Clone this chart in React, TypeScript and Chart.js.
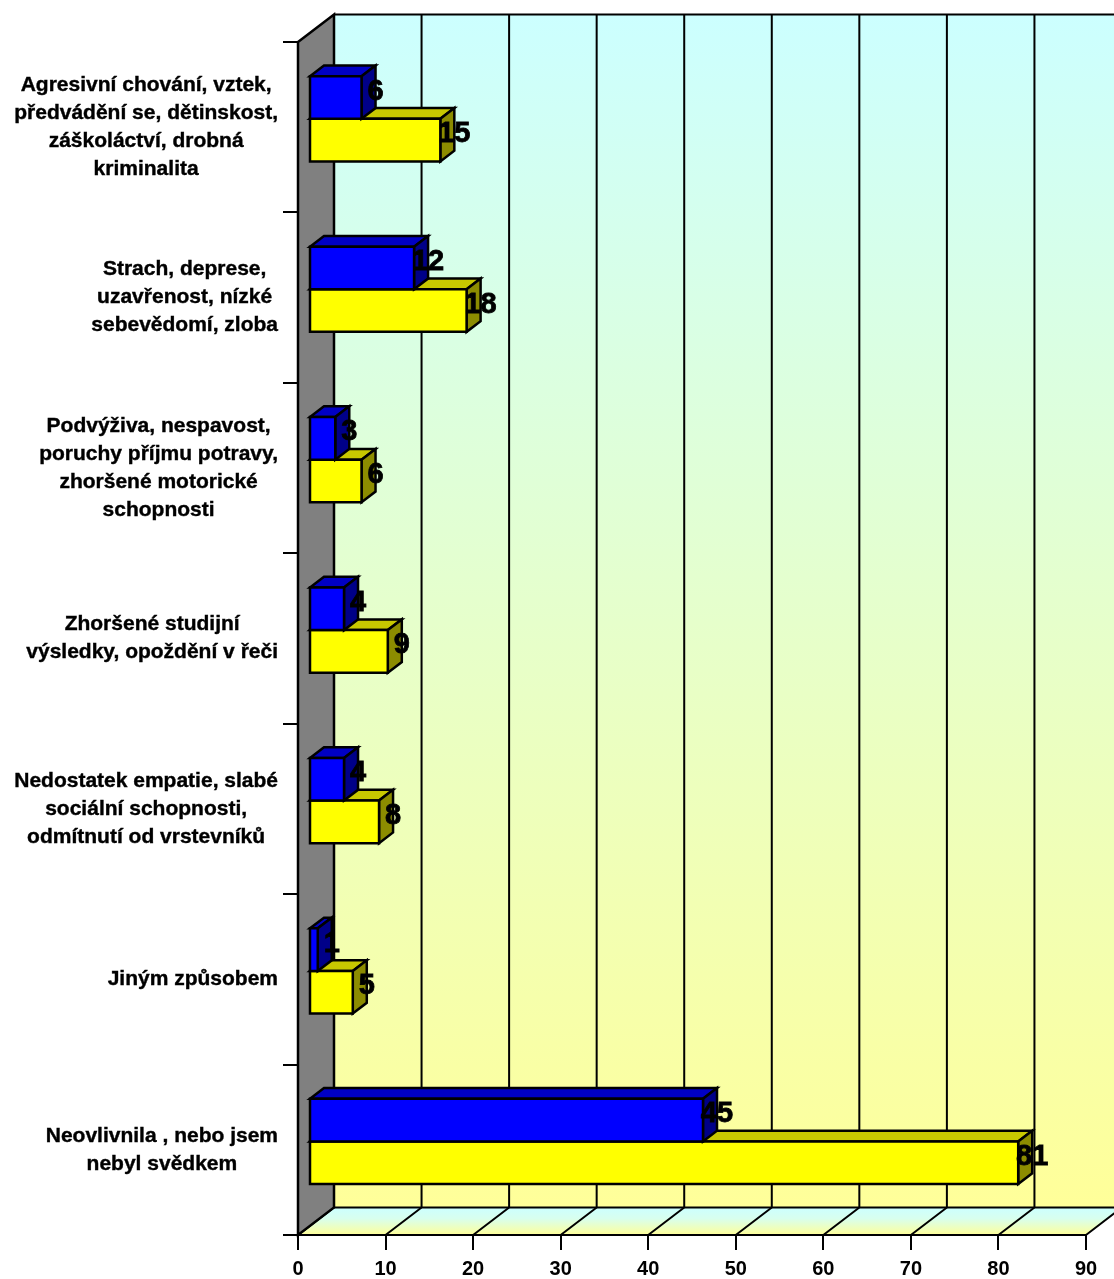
import React, { useEffect, useRef } from "react";
import { Chart, registerables } from "chart.js";

Chart.register(...registerables);

// ---------- data ----------
const categories: string[][] = [
  ["Agresivní chování, vztek,", "předvádění se, dětinskost,", "záškoláctví, drobná", "kriminalita"],
  ["Strach, deprese,", "uzavřenost, nízké", "sebevědomí, zloba"],
  ["Podvýživa, nespavost,", "poruchy příjmu potravy,", "zhoršené motorické", "schopnosti"],
  ["Zhoršené studijní", "výsledky, opoždění v řeči"],
  ["Nedostatek empatie, slabé", "sociální schopnosti,", "odmítnutí od vrstevníků"],
  ["Jiným způsobem"],
  ["Neovlivnila , nebo jsem", "nebyl svědkem"],
];
const blueValues = [6, 12, 3, 4, 4, 1, 45];
const yellowValues = [15, 18, 6, 9, 8, 5, 81];
const xMin = 0;
const xMax = 90;
const xStep = 10;

// ---------- styling ----------
const FONT = '"Liberation Sans", Arial, Helvetica, sans-serif';
const DEPTH_X = 36;
const DEPTH_Y = 27.5;
const BAR_OFF_X = 11;
const BAR_OFF_Y = 8.4;
const BAR_DX = 14;
const BAR_DY = 10.7;

const seriesColors = [
  { front: "#0000FF", top: "#0000C4", side: "#000088" },
  { front: "#FFFF00", top: "#C8C800", side: "#8C8C00" },
];

function poly(ctx: CanvasRenderingContext2D, pts: number[][], fill: string) {
  ctx.beginPath();
  ctx.moveTo(pts[0][0], pts[0][1]);
  for (let i = 1; i < pts.length; i++) ctx.lineTo(pts[i][0], pts[i][1]);
  ctx.closePath();
  ctx.fillStyle = fill;
  ctx.fill();
  ctx.stroke();
}

const scenePlugin = {
  id: "scene3d",
  beforeDraw(chart: any) {
    const { ctx, chartArea: a, scales } = chart;
    const x = scales.x;
    const W = chart.width;
    const bx0 = a.left + DEPTH_X;
    const by0 = a.top - DEPTH_Y;
    const by1 = a.bottom - DEPTH_Y;
    ctx.save();
    // back wall
    const g = ctx.createLinearGradient(0, by0, 0, by1);
    g.addColorStop(0, "#CCFFFF");
    g.addColorStop(1, "#FFFF99");
    ctx.fillStyle = g;
    ctx.fillRect(bx0, by0, W - bx0 + 10, by1 - by0);
    // floor
    const g2 = ctx.createLinearGradient(0, by1, 0, a.bottom);
    g2.addColorStop(0, "#CCFFFF");
    g2.addColorStop(0.4, "#D8FFEE");
    g2.addColorStop(1, "#FFFF99");
    ctx.beginPath();
    ctx.moveTo(a.left, a.bottom);
    ctx.lineTo(a.right, a.bottom);
    ctx.lineTo(a.right + DEPTH_X, by1);
    ctx.lineTo(bx0, by1);
    ctx.closePath();
    ctx.fillStyle = g2;
    ctx.fill();
    // grid lines on back wall and floor
    ctx.strokeStyle = "#000";
    ctx.lineWidth = 2;
    for (const t of x.ticks) {
      const px = x.getPixelForValue(t.value);
      ctx.beginPath();
      ctx.moveTo(px + DEPTH_X, by0);
      ctx.lineTo(px + DEPTH_X, by1);
      ctx.moveTo(px, a.bottom);
      ctx.lineTo(px + DEPTH_X, by1);
      ctx.stroke();
    }
    // back wall top & bottom edges
    ctx.beginPath();
    ctx.moveTo(bx0, by0);
    ctx.lineTo(W + 10, by0);
    ctx.moveTo(bx0, by1);
    ctx.lineTo(W + 10, by1);
    ctx.stroke();
    // left side wall
    ctx.lineJoin = "miter";
    ctx.lineWidth = 2.5;
    poly(
      ctx,
      [
        [a.left, a.top],
        [bx0, by0],
        [bx0, by1],
        [a.left, a.bottom],
      ],
      "#808080"
    );
    ctx.restore();
  },
  afterDatasetsDraw(chart: any) {
    const { ctx } = chart;
    ctx.save();
    ctx.strokeStyle = "#000";
    ctx.lineWidth = 2.5;
    ctx.lineJoin = "miter";
    const labels: { text: string; x: number; y: number }[] = [];
    // yellow first, blue on top
    for (const dsIndex of [1, 0]) {
      const meta = chart.getDatasetMeta(dsIndex);
      const col = seriesColors[dsIndex];
      const values = chart.data.datasets[dsIndex].data;
      meta.data.forEach((el: any, i: number) => {
        const p = el.getProps(["x", "y", "base", "height"], true);
        const x0 = p.base + BAR_OFF_X;
        const x1 = p.x + BAR_OFF_X;
        const yT = p.y - p.height / 2 - BAR_OFF_Y;
        const yB = p.y + p.height / 2 - BAR_OFF_Y;
        poly(ctx, [[x0, yT], [x0 + BAR_DX, yT - BAR_DY], [x1 + BAR_DX, yT - BAR_DY], [x1, yT]], col.top);
        poly(ctx, [[x1, yT], [x1 + BAR_DX, yT - BAR_DY], [x1 + BAR_DX, yB - BAR_DY], [x1, yB]], col.side);
        poly(ctx, [[x0, yT], [x1, yT], [x1, yB], [x0, yB]], col.front);
        labels.push({ text: String(values[i]), x: x1 + 14, y: (yT + yB) / 2 - 6 });
      });
    }
    ctx.fillStyle = "#000";
    ctx.strokeStyle = "#000";
    ctx.lineWidth = 0.8;
    ctx.font = `bold 29px ${FONT}`;
    ctx.textAlign = "center";
    ctx.textBaseline = "middle";
    for (const l of labels) {
      ctx.fillText(l.text, l.x, l.y);
      ctx.strokeText(l.text, l.x, l.y);
    }
    ctx.restore();
  },
  afterDraw(chart: any) {
    const { ctx, chartArea: a, scales } = chart;
    const y = scales.y;
    ctx.save();
    ctx.fillStyle = "#000";
    ctx.strokeStyle = "#000";
    ctx.lineWidth = 0.4;
    ctx.font = `bold 21px ${FONT}`;
    ctx.textAlign = "center";
    ctx.textBaseline = "middle";
    const lineH = 28;
    (chart.data.labels as string[][]).forEach((lines, i) => {
      const cy = y.getPixelForValue(i);
      let maxW = 0;
      for (const ln of lines) maxW = Math.max(maxW, ctx.measureText(ln).width);
      const right = a.left - 20;
      const cx = right - maxW / 2;
      lines.forEach((ln, j) => {
        const ty = cy + (j - (lines.length - 1) / 2) * lineH;
        ctx.fillText(ln, cx, ty);
        ctx.strokeText(ln, cx, ty);
      });
    });
    ctx.restore();
  },
};

export default function App() {
  const ref = useRef<HTMLCanvasElement | null>(null);
  useEffect(() => {
    document.body.style.margin = "0";
    const canvas = ref.current!;
    const chart = new Chart(canvas, {
      type: "bar",
      data: {
        labels: categories,
        datasets: [
          {
            label: "Série 1",
            data: blueValues,
            backgroundColor: "rgba(0,0,0,0)",
            borderWidth: 0,
            categoryPercentage: 0.5,
            barPercentage: 1.0,
          },
          {
            label: "Série 2",
            data: yellowValues,
            backgroundColor: "rgba(0,0,0,0)",
            borderWidth: 0,
            categoryPercentage: 0.5,
            barPercentage: 1.0,
          },
        ],
      },
      options: {
        indexAxis: "y",
        animation: false,
        responsive: false,
        events: [],
        layout: { padding: { left: 0, top: 42, right: 28, bottom: 0 } },
        plugins: {
          legend: { display: false },
          tooltip: { enabled: false },
          title: { display: false },
        },
        scales: {
          x: {
            type: "linear",
            min: xMin,
            max: xMax,
            ticks: {
              stepSize: xStep,
              color: "#000",
              font: { size: 20, weight: "bold", family: FONT },
              padding: 7,
            },
            grid: {
              drawOnChartArea: false,
              drawTicks: true,
              tickLength: 15,
              color: "#000",
              lineWidth: 2,
            },
            border: { display: true, color: "#000", width: 2 },
            afterFit: (s: any) => {
              s.height = 44;
            },
          },
          y: {
            type: "category",
            offset: true,
            ticks: { display: false },
            grid: {
              offset: true,
              drawOnChartArea: false,
              drawTicks: true,
              tickLength: 15,
              color: "#000",
              lineWidth: 2,
            },
            border: { display: true, color: "#000", width: 2 },
            afterFit: (s: any) => {
              s.width = 298;
            },
          },
        },
      },
      plugins: [scenePlugin],
    } as any);
    return () => chart.destroy();
  }, []);
  return (
    <div style={{ width: 1114, height: 1279 }}>
      <canvas ref={ref} width={1114} height={1279} style={{ display: "block", width: 1114, height: 1279 }} />
    </div>
  );
}
